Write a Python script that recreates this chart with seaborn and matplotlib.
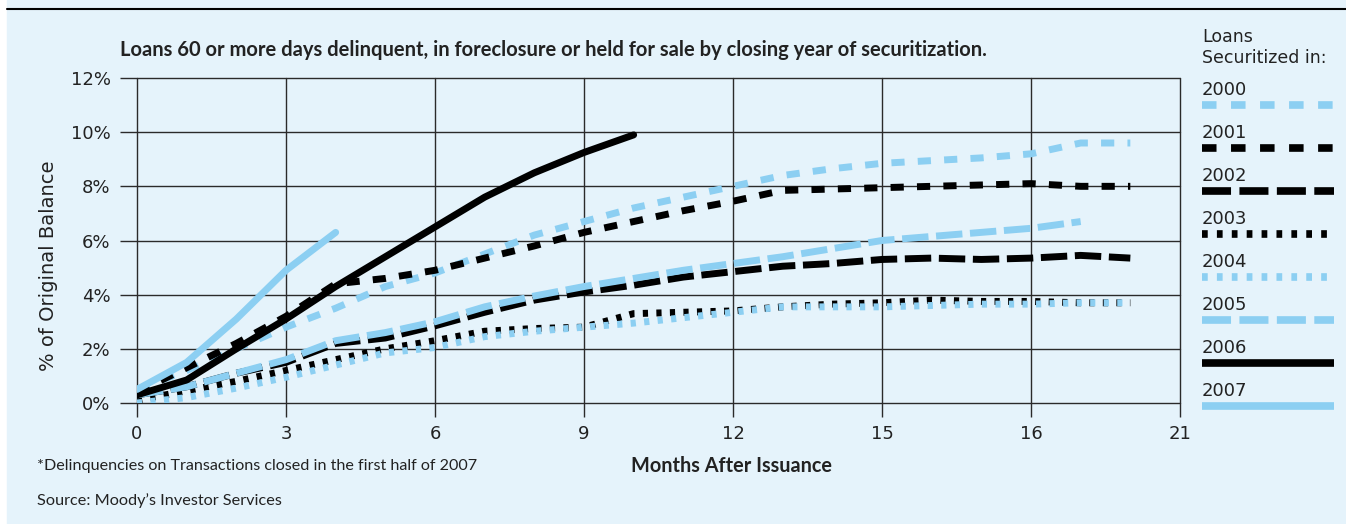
import matplotlib
matplotlib.use("Agg")
import matplotlib.pyplot as plt
from matplotlib.patches import Rectangle
from matplotlib.lines import Line2D
import seaborn as sns
import pandas as pd

# Data (percent of original balance, by month after issuance)
months = list(range(21))
y2000 = [0.5, 1.2, 2.0, 2.8, 3.5, 4.3, 4.8, 5.5, 6.2, 6.7, 7.2, 7.6, 8.0, 8.4, 8.65, 8.85, 8.95, 9.05, 9.2, 9.6, 9.6]
y2001 = [0.4, 1.3, 2.2, 3.2, 4.4, 4.6, 4.9, 5.35, 5.8, 6.3, 6.7, 7.1, 7.45, 7.85, 7.9, 7.95, 8.0, 8.05, 8.1, 8.0, 8.0]
y2002 = [0.3, 0.6, 1.1, 1.5, 2.2, 2.4, 2.85, 3.35, 3.8, 4.1, 4.35, 4.65, 4.85, 5.05, 5.15, 5.3, 5.35, 5.3, 5.35, 5.45, 5.35]
y2003 = [0.1, 0.45, 0.8, 1.2, 1.6, 2.0, 2.3, 2.65, 2.75, 2.8, 3.3, 3.35, 3.4, 3.55, 3.65, 3.7, 3.8, 3.75, 3.75, 3.7, 3.7]
y2004 = [0.0, 0.2, 0.55, 0.95, 1.4, 1.85, 2.05, 2.45, 2.65, 2.8, 2.95, 3.15, 3.35, 3.55, 3.55, 3.55, 3.6, 3.65, 3.65, 3.7, 3.7]
y2005 = [0.3, 0.6, 1.1, 1.6, 2.3, 2.6, 3.0, 3.55, 3.95, 4.3, 4.6, 4.9, 5.15, 5.4, 5.7, 6.0, 6.15, 6.3, 6.45, 6.7]
y2006 = [0.3, 0.85, 2.0, 3.1, 4.3, 5.4, 6.5, 7.6, 8.5, 9.25, 9.9]
y2007 = [0.5, 1.5, 3.1, 4.9, 6.3]

years = ["2000", "2001", "2002", "2003", "2004", "2005", "2006", "2007"]
series = [y2000, y2001, y2002, y2003, y2004, y2005, y2006, y2007]

xtick_pos = [0, 3, 6, 9, 12, 15, 18, 21]
xtick_labels = ["0", "3", "6", "9", "12", "15", "16", "21"]
ytick_pos = [0, 2, 4, 6, 8, 10, 12]

rows = []
for yr, vals in zip(years, series):
    for m, v in zip(months, vals):
        rows.append({"month": m, "pct": v, "year": yr})
df = pd.DataFrame(rows)

blue = "#8ccff2"
bg = "#e5f3fb"
txt = "#222222"
colors = {"2000": blue, "2001": "black", "2002": "black", "2003": "black",
          "2004": blue, "2005": blue, "2006": "black", "2007": blue}
short = (1.9, 1.9)
long_ = (3.8, 1.1)
dot = (0.75, 1.2)
dashes = {"2000": short, "2001": short, "2002": long_, "2003": dot,
          "2004": dot, "2005": long_, "2006": "", "2007": ""}

sns.set_theme(style="white")
plt.rcParams["font.family"] = ["Lato", "DejaVu Sans"]
wide = ["DejaVu Sans"]

W, H = 1346, 524
fig = plt.figure(figsize=(W / 100, H / 100), dpi=100)
fig.patch.set_facecolor("white")
fig.add_artist(Rectangle((7 / W, 0), 1, 1, transform=fig.transFigure,
                         color=bg, zorder=-10))
fig.add_artist(Line2D([7 / W, 1], [1 - 9 / H, 1 - 9 / H], color="black",
                      lw=1.5, transform=fig.transFigure))

ax = fig.add_axes([137 / W, 121 / H, (1180 - 137) / W, (403 - 78) / H])
ax.set_facecolor("none")

sns.lineplot(data=df, x="month", y="pct", hue="year", style="year",
             palette=colors, dashes=dashes, linewidth=5, legend=False,
             ax=ax, zorder=3)

ax.set_xlim(0, 21)
ax.set_ylim(0, 12)
ax.set_xticks(xtick_pos)
ax.set_xticklabels(xtick_labels)
ax.set_yticks(ytick_pos)
ax.set_yticklabels([f"{v}%" for v in ytick_pos])
for s in ax.spines.values():
    s.set_visible(False)
ax.grid(True, color="#2a2a2a", lw=1.0)
for gl in ax.get_xgridlines() + ax.get_ygridlines():
    gl.set_clip_on(False)
ax.tick_params(axis="y", length=12, width=1.0, color="#2a2a2a", pad=7,
               left=True)
ax.tick_params(axis="x", length=10, width=1.0, color="#2a2a2a", pad=6,
               bottom=True)
for lbl in ax.get_xticklabels() + ax.get_yticklabels():
    lbl.set_color(txt)
    lbl.set_family(wide)
    lbl.set_fontsize(13)

ax.set_xlabel("")
ax.set_ylabel("")
fig.text(49 / W, 1 - 266 / H, "% of Original Balance", rotation=90,
         ha="center", va="center", fontsize=14, color=txt, family=wide)
fig.text(732 / W, 1 - 466 / H, "Months After Issuance", ha="center",
         va="center", fontsize=14.3, fontweight="bold", color=txt)
fig.text(120 / W, 1 - 50 / H,
         "Loans 60 or more days delinquent, in foreclosure or held for sale "
         "by closing year of securitization.",
         ha="left", va="center", fontsize=14.5, fontweight="bold", color=txt)
fig.text(37 / W, 1 - 466 / H,
         "*Delinquencies on Transactions closed in the first half of 2007",
         ha="left", va="center", fontsize=11.6, color=txt)
fig.text(37 / W, 1 - 501 / H, "Source: Moody\u2019s Investor Services",
         ha="left", va="center", fontsize=11.7, color=txt)

# Legend panel
lax = fig.add_axes([1202 / W, 0, (1334 - 1202) / W, 1])
lax.set_xlim(0, 1)
lax.set_ylim(H, 0)
lax.axis("off")
lax.text(0, 37, "Loans", fontsize=12.5, va="center", ha="left", color=txt,
         family=wide)
lax.text(0, 58, "Securitized in:", fontsize=12.5, va="center", ha="left",
         color=txt, family=wide)
for i, yr in enumerate(years):
    ty = 90 + 43 * i
    lax.text(0, ty, yr, fontsize=13, va="center", ha="left", color=txt,
             family=wide)
    d = dashes[yr]
    ls = "-" if d == "" else (0, d)
    lax.plot([0, 1], [ty + 15, ty + 15], color=colors[yr], lw=5.5,
             linestyle=ls, solid_capstyle="butt")

fig.savefig("out.png", dpi=100)
